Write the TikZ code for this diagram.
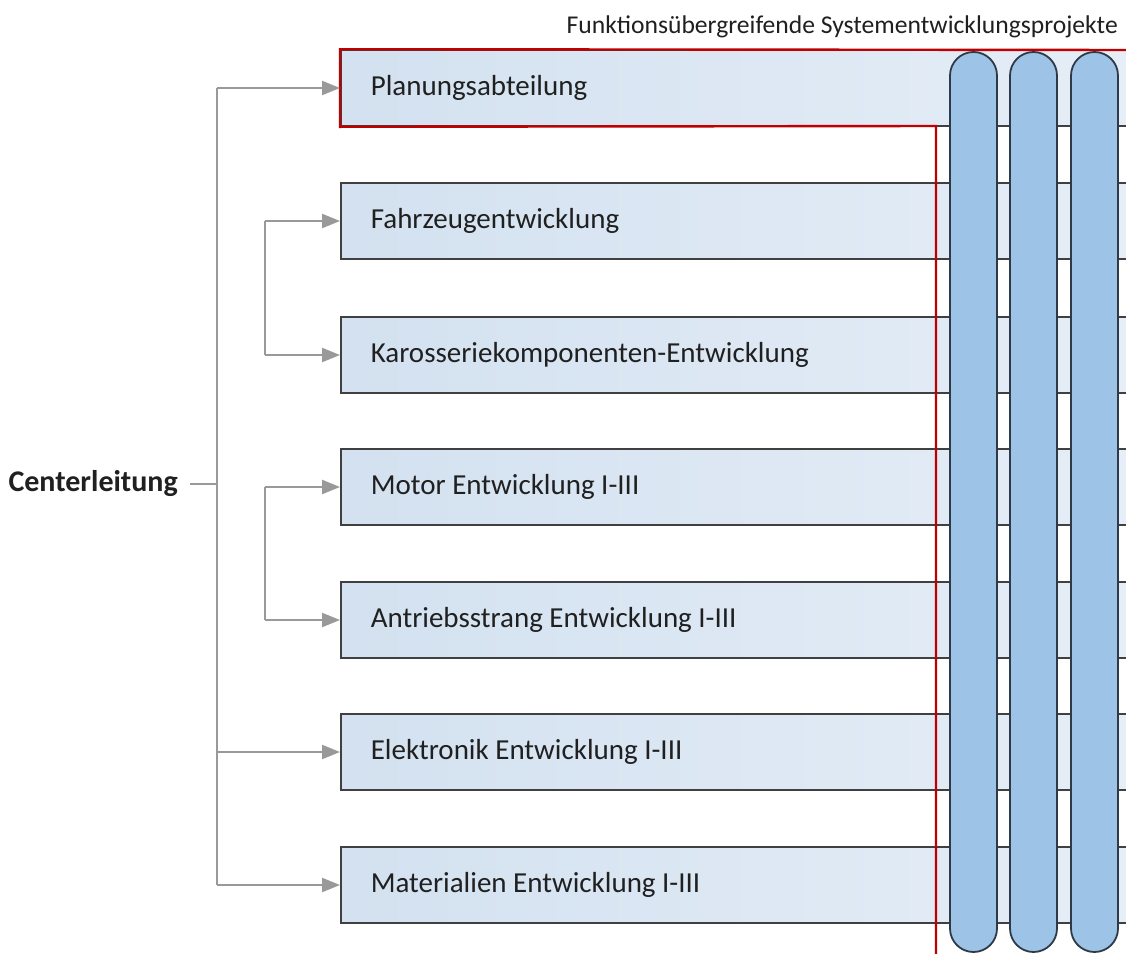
\documentclass[tikz,border=0pt]{standalone}
\usepackage{fontspec}
\setmainfont{Carlito}
\usetikzlibrary{arrows.meta,calc}
\definecolor{boxL}{HTML}{D3E1F0}
\definecolor{boxR}{HTML}{E6EEF7}
\definecolor{pillfill}{HTML}{9DC3E6}
\definecolor{pilledge}{HTML}{2E3A48}
\definecolor{framered}{HTML}{C00000}
\definecolor{conngray}{HTML}{999999}
\definecolor{txt}{HTML}{202020}
\definecolor{edgegray}{HTML}{404040}

\newcommand{\deptlabel}[1]{\makebox[740pt][l]{#1}}

\begin{document}
\begin{tikzpicture}[x=1pt,y=-1pt,
  dept/.style={draw=edgegray, line width=1.6pt, left color=boxL, right color=boxR,
    minimum height=76pt, minimum width=800pt, inner xsep=30pt, inner ysep=0pt,
    anchor=west, font=\fontsize{29}{34}\selectfont, text=txt},
  pill/.style={draw=pilledge, line width=1.8pt, fill=pillfill,
    minimum width=47pt, minimum height=900pt, rounded corners=23.5pt, inner sep=0pt},
  conn/.style={draw=conngray, line width=2.3pt},
  arr/.style={conn, -{Triangle[length=18pt,width=14pt]}},
  redframe/.style={draw=framered, line width=2.4pt}
]
\useasboundingbox (0,0) rectangle (1126,953);
\fill[white] (0,0) rectangle (1126,953);
\begin{scope}
\clip (0,0) rectangle (1126,953);

% department boxes (they run on past the right edge)
\node[dept] (b1) at (340,88)  {\deptlabel{Planungsabteilung}};
\node[dept] (b2) at (340,221) {\deptlabel{Fahrzeugentwicklung}};
\node[dept] (b3) at (340,355) {\deptlabel{Karosseriekomponenten-Entwicklung}};
\node[dept] (b4) at (340,487) {\deptlabel{Motor Entwicklung I-III}};
\node[dept] (b5) at (340,620) {\deptlabel{Antriebsstrang Entwicklung I-III}};
\node[dept] (b6) at (340,752) {\deptlabel{Elektronik Entwicklung I-III}};
\node[dept] (b7) at (340,885) {\deptlabel{Materialien Entwicklung I-III}};

% red frame around planning and the cross-functional projects
\draw[redframe] (936,960) -- (936,126) -- (b1.south west) -- (b1.north west) -- (1140,50);

% cross-functional project pillars
\node[pill] (p1) at (973.5,502) {};
\node[pill] (p2) at (1033.5,502) {};
\node[pill] (p3) at (1094.5,502) {};

% title
\node[anchor=east, inner sep=0pt, font=\fontsize{25.6}{30}\selectfont, text=txt] (title)
  at (1118,27) {Funktionsübergreifende Systementwicklungsprojekte};

% centre management and its tree
\node[anchor=east, inner xsep=12pt, inner ysep=0pt, font=\fontsize{30}{34}\selectfont\bfseries, text=txt]
  (cl) at (190,484) {Centerleitung};

\coordinate (t1) at (217,88);
\coordinate (t7) at (217,885);
\coordinate (s1) at (265,221);
\coordinate (s2) at (265,355);
\coordinate (s3) at (265,487);
\coordinate (s4) at (265,620);

\draw[conn] (t1) -- (t7);
\draw[conn] (cl.east) -- (cl.east -| t1);
\draw[conn] (s1) -- (s2);
\draw[conn] (s3) -- (s4);
\draw[conn] ($(s1)!.5!(s2)$) -- ($(s1)!.5!(s2)$ -| t1);
\draw[conn] ($(s3)!.5!(s4)$) -- ($(s3)!.5!(s4)$ -| t1);

\draw[arr] (t1) -- (b1.west);
\draw[arr] (s1) -- (b2.west);
\draw[arr] (s2) -- (b3.west);
\draw[arr] (s3) -- (b4.west);
\draw[arr] (s4) -- (b5.west);
\draw[arr] (b6.west -| t1) -- (b6.west);
\draw[arr] (t7) -- (b7.west);
\end{scope}
\end{tikzpicture}
\end{document}
